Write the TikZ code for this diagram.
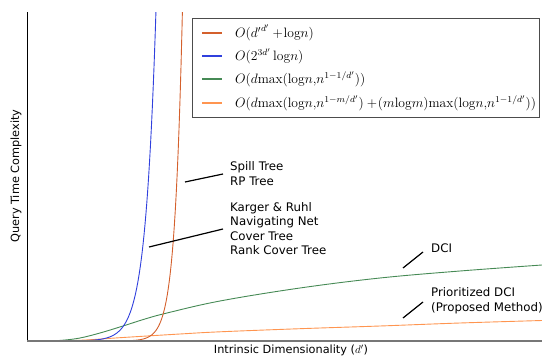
\documentclass[tikz,border=0pt]{standalone}
\usepackage{fontspec}
\setsansfont{DejaVu Sans}
\definecolor{cred}{HTML}{D4602C}
\definecolor{cblue}{HTML}{3040DD}
\definecolor{cgreen}{HTML}{468A55}
\definecolor{corange}{HTML}{FF9550}
\definecolor{axgray}{HTML}{777777}
\tikzset{
  curve/.style={line width=0.9pt},
  annline/.style={line width=1.2pt, black},
  anntext/.style={font=\sffamily\fontsize{11.8}{14.6}\selectfont, align=left, anchor=west, inner sep=0pt},
  axlabel/.style={font=\sffamily\fontsize{11.3}{13}\selectfont, inner sep=0pt},
  legtext/.style={font=\fontsize{12}{14}\selectfont, anchor=base west, inner sep=0pt},
  legline/.style={line width=1.2pt}
}
\newcommand{\legmath}[1]{\scalebox{1.133}{$#1$}}
\begin{document}
\begin{tikzpicture}[x=1pt,y=-1pt]
\useasboundingbox (0,0) rectangle (542,356);
% axes
\coordinate (o) at (27,341);
\coordinate (ytop) at (27,12);
\coordinate (xend) at (542,341);
\begin{scope}
\clip (27,12) rectangle (542,341);
\draw[curve, corange] plot[smooth, tension=0.6] coordinates {(47,341) (80,340.3) (123,337.5) (180,334) (220,331.8) (300,328.7) (380,326) (460,323) (542,320.5)};
\draw[curve, cgreen] plot[smooth, tension=0.6] coordinates {(47,341) (63,340.2) (80,338) (100,333) (123,326) (145,319) (167,313) (220,301) (300,288) (380,278) (460,271) (542,265)};
\draw[curve, cblue] plot[domain=47:157, samples=120] (\x, {341-331*exp(0.095*(\x-156))});
\draw[curve, cred] plot[domain=47:183, samples=140] (\x, {341-241*exp(0.13*(\x-180))});
\end{scope}
\draw[line width=1.6pt, axgray] (o) -- (xend);
\draw[line width=1pt, black] (ytop) -- ([yshift=0.8pt]o);
% axis labels
\node[axlabel] (xl) at (291,350) {Intrinsic Dimensionality ($d'$)};
\node[axlabel, rotate=90] (yl) at (16,176) {Query Time Complexity};
% legend
\draw[fill=white, draw=black!70, line width=0.9pt] (192,18) rectangle (539,117);
\draw[legline, cred] (202,33) -- (222,33);
\draw[legline, cblue] (202,56) -- (222,56);
\draw[legline, cgreen] (202,79) -- (222,79);
\draw[legline, corange] (202,103) -- (222,103);
\node[legtext] (l1) at (235,37.8) {\legmath{O({d'}^{d'} \mathbin{+}\!\mathrm{log}n)}};
\node[legtext] (l2) at (235,60.8) {\legmath{O(2^{3d'}\,\mathrm{log}n)}};
\node[legtext] (l3) at (235,83.8) {\legmath{O\bigl(d\mathrm{max}(\mathrm{log}n{,}n^{1-1/d'})\bigr)}};
\node[legtext] (l4) at (235,107.8) {\legmath{O\bigl(d\mathrm{max}(\mathrm{log}n{,}n^{1-m/d'})\mathbin{+}\!(m\mathrm{log}m)\mathrm{max}(\mathrm{log}n{,}n^{1-1/d'})\bigr)}};
% annotations
\node[anntext] (spill) at (230,173.5) {Spill Tree\\RP Tree};
\node[anntext] (karger) at (230,228.5) {Karger \& Ruhl\\Navigating Net\\Cover Tree\\Rank Cover Tree};
\node[anntext] (dci) at (431,248) {DCI};
\node[anntext] (pdci) at (431,300.5) {Prioritized DCI\\(Proposed Method)};
\coordinate (s1) at (185,182); \coordinate (s2) at (223,174);
\coordinate (k1) at (149,247); \coordinate (k2) at (223,229);
\coordinate (d1) at (403,268); \coordinate (d2) at (423,252);
\coordinate (p1) at (403,318); \coordinate (p2) at (423,302);
\draw[annline] (s1) -- (s2);
\draw[annline] (k1) -- (k2);
\draw[annline] (d1) -- (d2);
\draw[annline] (p1) -- (p2);
\end{tikzpicture}
\end{document}
